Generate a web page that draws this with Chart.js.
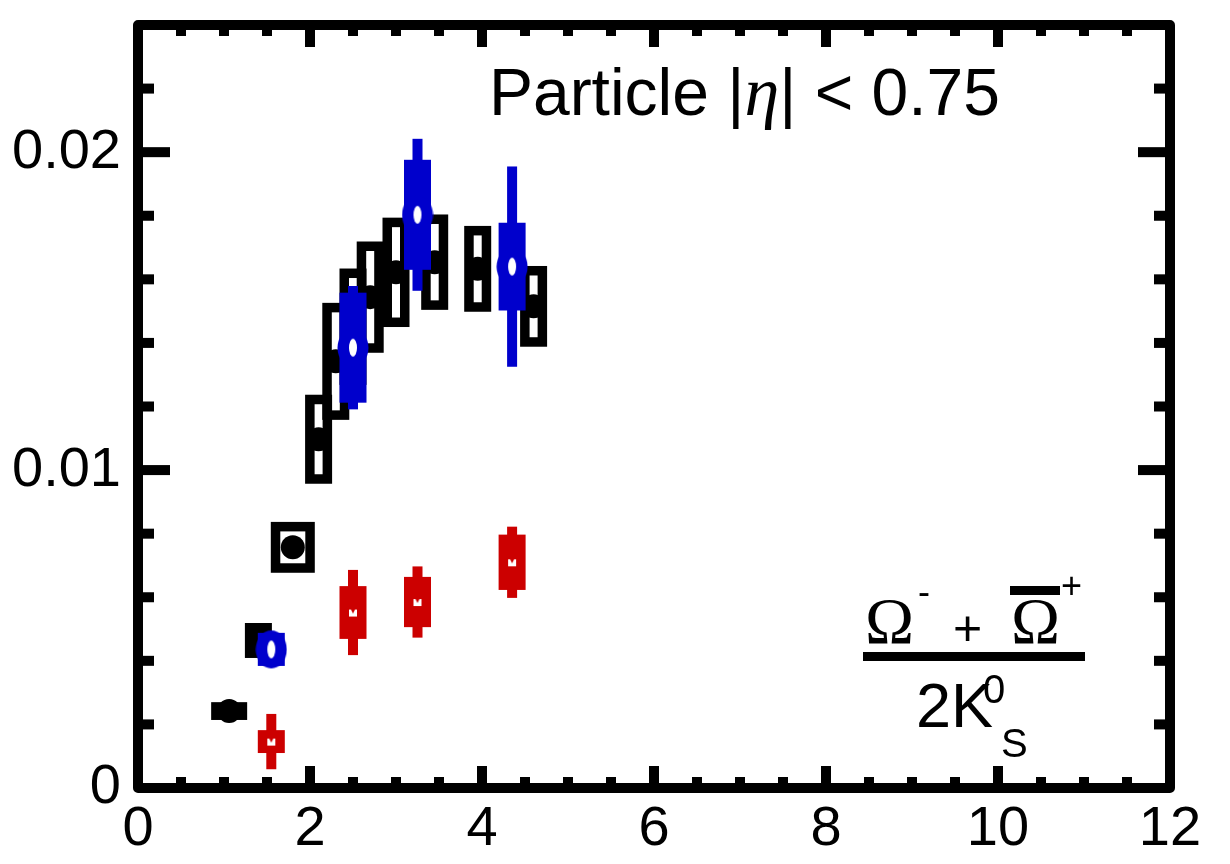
<!DOCTYPE html>
<html>
<head>
<meta charset="utf-8">
<script src="https://cdn.jsdelivr.net/npm/chart.js@4/dist/chart.umd.min.js"></script>
<style>
  body { margin: 0; background: #fff; }
  #wrap { width: 1230px; height: 864px; }
</style>
</head>
<body>
<div id="wrap"><canvas id="chart" width="1230" height="864"></canvas></div>
<script>
// Data
const xTicks = [0, 2, 4, 6, 8, 10, 12];
const yTicks = [0, 0.01, 0.02];

// black: filled circle + open syst. box
const blackX = [1.06, 1.40, 1.80, 2.10, 2.30, 2.50, 2.70, 3.00, 3.45, 3.95, 4.60];
const blackY = [0.00242, 0.00464, 0.00757, 0.01097, 0.01342, 0.01451, 0.01544, 0.01622, 0.01654, 0.01633, 0.01515];
const blackSys = [0.00028, 0.00055, 0.0008, 0.0014, 0.00184, 0.00183, 0.00175, 0.00172, 0.0015, 0.00135, 0.00127];

// blue: open circle, stat bar + filled syst. box
const blueX = [1.55, 2.50, 3.25, 4.35];
const blueY = [0.00436, 0.01385, 0.01803, 0.0164];
const blueStat = [0.0005, 0.00194, 0.00239, 0.00315];
const blueSys = [0.00052, 0.00173, 0.00173, 0.00138];

// red: stat bar + filled syst. box
const redX = [1.55, 2.50, 3.25, 4.35];
const redY = [0.00146, 0.00552, 0.00585, 0.0071];
const redStat = [0.00087, 0.00134, 0.00112, 0.00112];
const redSys = [0.00036, 0.00083, 0.00079, 0.00087];

// Styles
const BLUE = "#0000cc";
const RED = "#cc0000";
const SANS = "'Liberation Sans', Arial, sans-serif";
const SERIF = "'Liberation Serif', 'Times New Roman', serif";
const blackBoxW = [36, 27, 44, 27, 27, 27, 27, 27, 27, 27, 27];
const colorBoxW = 27;
const barW = 10;

function toPoints(xs, ys) {
  return xs.map((x, i) => ({ x: x, y: ys[i] }));
}

// marker images
function makeBlueRing() {
  const c = document.createElement("canvas");
  c.width = 32; c.height = 40;
  const g = c.getContext("2d");
  g.fillStyle = BLUE;
  g.beginPath(); g.ellipse(16, 20, 15.5, 19, 0, 0, Math.PI * 2); g.fill();
  g.fillStyle = "#fff";
  g.beginPath(); g.ellipse(16, 20, 4, 9, 0, 0, Math.PI * 2); g.fill();
  return c;
}
function makeRedMark() {
  const c = document.createElement("canvas");
  c.width = 10; c.height = 10;
  const g = c.getContext("2d");
  g.fillStyle = "#fff";
  g.fillRect(1, 2, 8, 7);
  g.fillStyle = RED;
  g.beginPath(); g.moveTo(3, 2); g.lineTo(7, 2); g.lineTo(5, 6); g.closePath(); g.fill();
  return c;
}

// draw boxes / error bars under each series' markers
const errorPlugin = {
  id: "errors",
  beforeDatasetDraw(chart, args) {
    const ds = chart.data.datasets[args.index];
    const xs = chart.scales.x, ys = chart.scales.y;
    const ctx = chart.ctx;
    ctx.save();
    if (ds.series === "black") {
      ctx.strokeStyle = "#000";
      ctx.lineWidth = 9.5;
      blackX.forEach((x, i) => {
        const px = xs.getPixelForValue(x);
        const w = blackBoxW[i];
        const y0 = ys.getPixelForValue(blackY[i] + blackSys[i]);
        const y1 = ys.getPixelForValue(blackY[i] - blackSys[i]);
        ctx.strokeRect(px - w / 2 + 4.75, y0 + 4.75, w - 9.5, y1 - y0 - 9.5);
      });
    } else {
      const X = ds.series === "blue" ? blueX : redX;
      const Y = ds.series === "blue" ? blueY : redY;
      const S = ds.series === "blue" ? blueStat : redStat;
      const Sy = ds.series === "blue" ? blueSys : redSys;
      ctx.fillStyle = ds.series === "blue" ? BLUE : RED;
      X.forEach((x, i) => {
        const px = xs.getPixelForValue(x);
        const b0 = ys.getPixelForValue(Y[i] + S[i]);
        const b1 = ys.getPixelForValue(Y[i] - S[i]);
        ctx.fillRect(px - barW / 2, b0, barW, b1 - b0);
        const s0 = ys.getPixelForValue(Y[i] + Sy[i]);
        const s1 = ys.getPixelForValue(Y[i] - Sy[i]);
        ctx.fillRect(px - colorBoxW / 2, s0, colorBoxW, s1 - s0);
      });
    }
    ctx.restore();
  }
};

// frame, inward ticks, and the text labels
const framePlugin = {
  id: "frame",
  afterDatasetsDraw(chart) {
    const { ctx, chartArea: a } = chart;
    const xs = chart.scales.x, ys = chart.scales.y;
    ctx.save();
    ctx.strokeStyle = "#000";
    ctx.fillStyle = "#000";
    ctx.lineWidth = 10;
    ctx.lineJoin = "round";
    ctx.strokeRect(a.left, a.top, a.right - a.left, a.bottom - a.top);

    // x ticks every 0.5, major every 2
    for (let k = 1; k < 24; k++) {
      const v = k * 0.5;
      const len = k % 4 === 0 ? 17 : 6;
      const px = xs.getPixelForValue(v);
      ctx.fillRect(px - 5, a.bottom - 5 - len, 10, len);
      ctx.fillRect(px - 5, a.top + 5, 10, len);
    }
    // y ticks every 0.002, major every 0.01
    for (let k = 1; k < 12; k++) {
      const v = k * 0.002;
      const len = k % 5 === 0 ? 27 : 11;
      const py = ys.getPixelForValue(v);
      ctx.fillRect(a.left + 5, py - 5, len, 10);
      ctx.fillRect(a.right - 5 - len, py - 5, len, 10);
    }

    // title: Particle |η| < 0.75
    ctx.textBaseline = "alphabetic";
    ctx.textAlign = "left";
    const f1 = "66px " + SANS, f2 = "italic 70px " + SERIF;
    const parts = [["Particle |", f1], ["\u03B7", f2], ["| < 0.75", f1]];
    let tw = 0;
    parts.forEach(p => { ctx.font = p[1]; tw += ctx.measureText(p[0]).width; });
    let tx = 1000 - tw;
    parts.forEach(p => {
      ctx.font = p[1];
      ctx.fillText(p[0], tx, 115);
      tx += ctx.measureText(p[0]).width;
    });

    // fraction (Omega^- + anti-Omega^+) / 2K0S
    ctx.font = "66px " + SERIF;
    ctx.fillText("\u03A9", 865, 643);
    ctx.fillText("\u03A9", 1011, 643);
    ctx.font = "36px " + SANS;
    ctx.fillText("-", 918, 604);
    ctx.fillText("+", 1061, 598);
    ctx.font = "50px " + SANS;
    ctx.fillText("+", 953, 645);
    ctx.fillRect(1010, 586, 50, 9);
    ctx.fillRect(863, 652, 222, 9);
    ctx.font = "63px " + SANS;
    ctx.fillText("2K", 916, 727);
    ctx.font = "40px " + SANS;
    ctx.fillText("0", 983, 703);
    ctx.fillText("S", 1001, 757);
    ctx.restore();
  }
};

new Chart(document.getElementById("chart"), {
  type: "scatter",
  data: {
    datasets: [
      {
        series: "black",
        order: 3,
        data: toPoints(blackX, blackY),
        pointStyle: "circle",
        pointRadius: 12,
        pointBackgroundColor: "#000",
        pointBorderWidth: 0
      },
      {
        series: "blue",
        order: 2,
        data: toPoints(blueX, blueY),
        pointStyle: makeBlueRing()
      },
      {
        series: "red",
        order: 1,
        data: toPoints(redX, redY),
        pointStyle: makeRedMark()
      }
    ]
  },
  options: {
    responsive: false,
    animation: false,
    layout: { padding: { top: 25, right: 60, left: 0, bottom: 0 } },
    plugins: { legend: { display: false }, tooltip: { enabled: false } },
    scales: {
      x: {
        type: "linear",
        min: 0,
        max: 12,
        afterBuildTicks: (s) => { s.ticks = xTicks.map(v => ({ value: v })); },
        afterFit: (s) => { s.height = 76; s.paddingLeft = 0; s.paddingRight = 0; },
        grid: { display: false, drawTicks: false },
        border: { display: false },
        ticks: { color: "#000", font: { family: SANS, size: 56 }, padding: 8, maxRotation: 0 }
      },
      y: {
        min: 0,
        max: 0.024,
        afterBuildTicks: (s) => { s.ticks = yTicks.map(v => ({ value: v })); },
        afterFit: (s) => { s.width = 138; s.paddingTop = 0; s.paddingBottom = 0; },
        grid: { display: false, drawTicks: false },
        border: { display: false },
        ticks: {
          color: "#000",
          font: { family: SANS, size: 56 },
          padding: 17,
          callback: (v) => String(+v.toFixed(3))
        }
      }
    }
  },
  plugins: [errorPlugin, framePlugin]
});
</script>
</body>
</html>
